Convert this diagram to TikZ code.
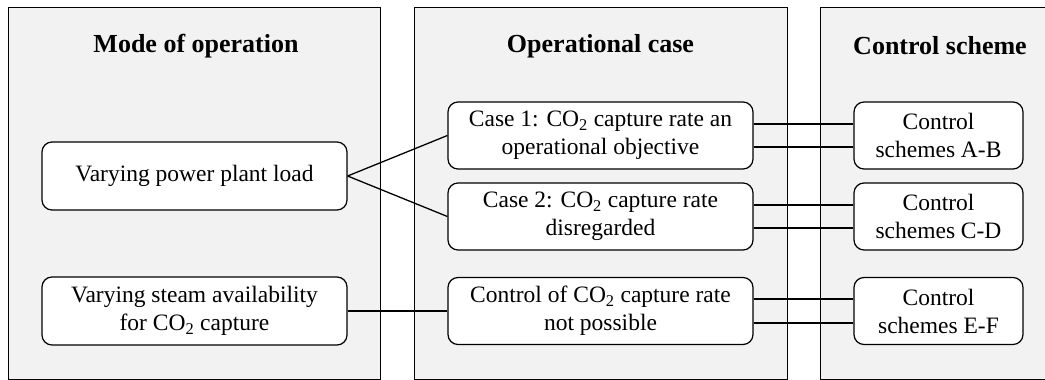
\documentclass[tikz,border=0pt]{standalone}
\usepackage{fontspec}
\setmainfont{Liberation Serif}
\begin{document}
\begin{tikzpicture}[x=1pt,y=-1pt,
  panel/.style={draw=black,line width=1pt,fill=panelgray},
  box/.style={draw=black,line width=1.2pt,fill=white,rounded corners=10pt,align=center,font=\fontsize{23.5}{28}\selectfont,inner sep=0pt},
  lbox/.style={box,minimum width=305pt,minimum height=68pt},
  mbox/.style={box,minimum width=305pt,minimum height=67pt},
  rbox/.style={box,minimum width=169pt,minimum height=67pt},
  title/.style={font=\fontsize{26}{30}\selectfont\bfseries},
  conn/.style={line width=1.3pt}]
\definecolor{panelgray}{HTML}{F2F2F2}
\useasboundingbox (0,0) rectangle (1045,380);
\draw[panel] (8,7) rectangle (380,379);
\draw[panel] (414,7) rectangle (787,379);
\draw[panel] (820,7) rectangle (1060,379);
\node[title] (t1) at (196,46) {Mode of operation};
\node[title] (t2) at (600.5,46) {Operational case};
\node[title] (t3) at (940,46) {Control scheme};
\node[lbox] (l1) at (194.5,176) {Varying power plant load};
\node[lbox] (l2) at (194.5,311) {Varying steam availability\\for CO\textsubscript{2} capture};
\node[mbox] (m1) at (600.5,135.5) {Case 1: CO\textsubscript{2} capture rate an\\operational objective};
\node[mbox] (m2) at (600.5,216.5) {Case 2: CO\textsubscript{2} capture rate\\disregarded};
\node[mbox] (m3) at (600.5,311) {Control of CO\textsubscript{2} capture rate\\not possible};
\node[rbox] (r1) at (938.5,135.5) {Control\\schemes A-B};
\node[rbox] (r2) at (938.5,216.5) {Control\\schemes C-D};
\node[rbox] (r3) at (938.5,311) {Control\\schemes E-F};
\draw[conn] (l1.east) -- (m1.west);
\draw[conn] (l1.east) -- (m2.west);
\draw[conn] (l2.east) -- (m3.west);
\foreach \a/\b/\o in {m1/r1/11.5,m2/r2/11.5,m3/r3/12}{
  \draw[conn] ([yshift=\o pt]\a.east) -- ([yshift=\o pt]\b.west);
  \draw[conn] ([yshift=-\o pt]\a.east) -- ([yshift=-\o pt]\b.west);
}
\end{tikzpicture}
\end{document}
